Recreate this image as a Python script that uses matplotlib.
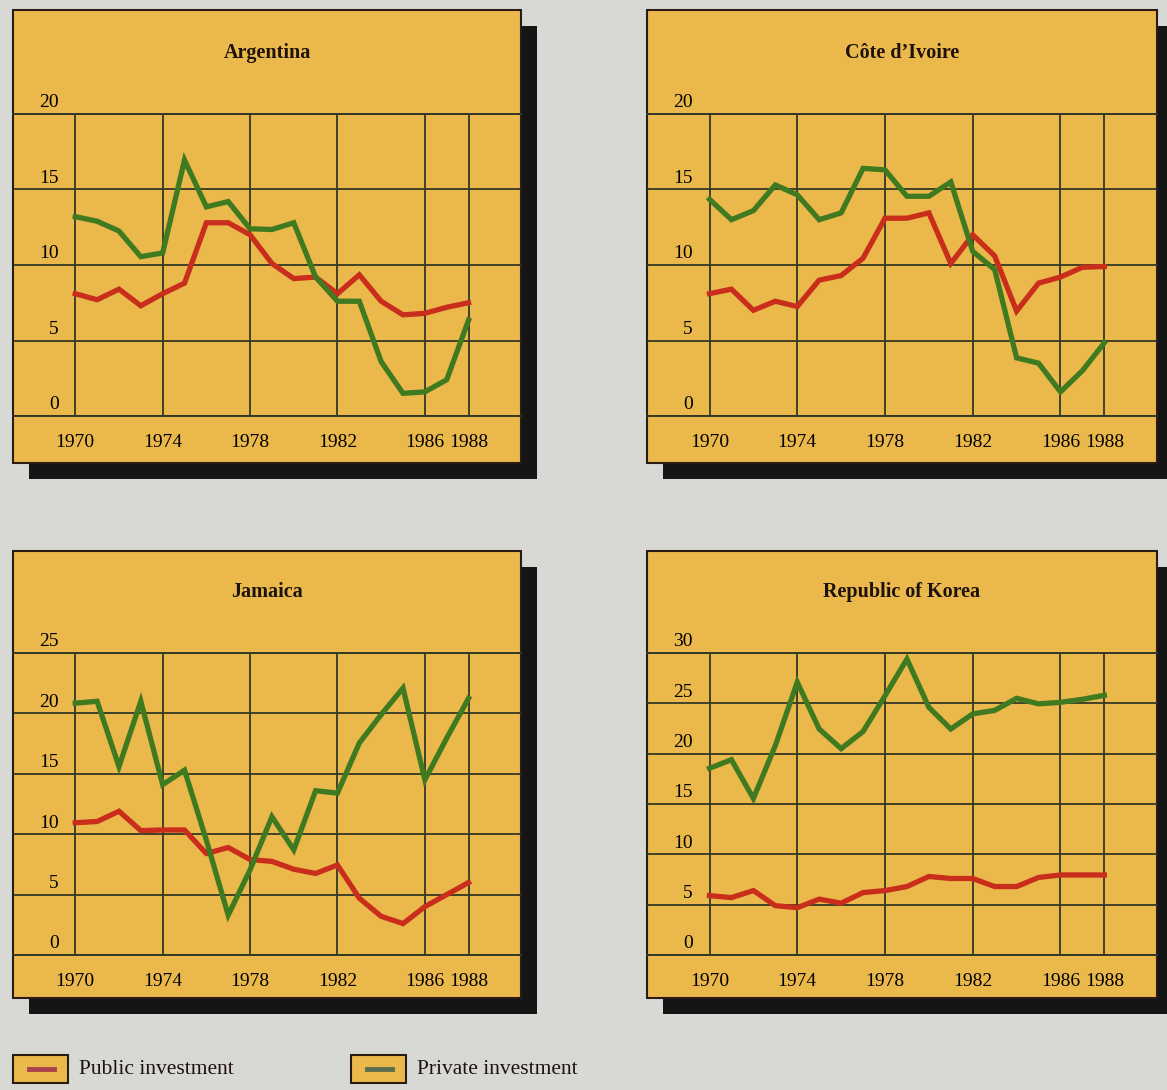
import numpy as np
import matplotlib
matplotlib.use("Agg")
import matplotlib.pyplot as plt
from matplotlib.patches import Rectangle
from matplotlib.lines import Line2D
import matplotlib.transforms as mtransforms

plt.rcParams['font.family'] = ['Liberation Serif', 'DejaVu Serif']

# data (percent of GDP)
years = list(range(1970, 1989))

argentina_public = [8.1, 7.7, 8.4, 7.3, 8.1, 8.8, 12.8, 12.8, 12.0, 10.1, 9.1, 9.2,
                    8.1, 9.35, 7.6, 6.7, 6.8, 7.2, 7.5]
argentina_private = [13.2, 12.9, 12.25, 10.55, 10.8, 16.95, 13.85, 14.2, 12.4, 12.35,
                     12.8, 9.2, 7.6, 7.6, 3.6, 1.5, 1.6, 2.4, 6.35]

cote_public = [8.1, 8.4, 7.0, 7.6, 7.25, 9.0, 9.3, 10.45, 13.1, 13.1, 13.45, 10.1,
               12.0, 10.6, 6.95, 8.8, 9.2, 9.85, 9.9]
cote_private = [14.35, 13.0, 13.6, 15.3, 14.65, 13.0, 13.45, 16.4, 16.3, 14.55, 14.55,
                15.5, 10.9, 9.7, 3.85, 3.5, 1.6, 3.0, 4.85]

jamaica_public = [10.95, 11.05, 11.9, 10.3, 10.35, 10.35, 8.4, 8.9, 7.9, 7.75, 7.1,
                  6.75, 7.45, 4.7, 3.2, 2.6, 4.0, 5.0, 6.0]
jamaica_private = [20.85, 21.0, 15.6, 21.0, 14.1, 15.3, 9.5, 3.3, 7.05, 11.45, 8.7,
                   13.6, 13.4, 17.55, 19.9, 22.1, 14.5, 17.95, 21.25]

korea_public = [5.9, 5.7, 6.4, 4.9, 4.7, 5.55, 5.15, 6.2, 6.4, 6.8, 7.8, 7.6, 7.6,
                6.8, 6.8, 7.7, 7.95, 7.95, 7.95]
korea_private = [18.55, 19.4, 15.55, 20.8, 27.1, 22.45, 20.5, 22.2, 25.75, 29.4, 24.6,
                 22.45, 23.95, 24.3, 25.5, 24.95, 25.1, 25.4, 25.8]

countries = ['Argentina', 'Côte d’Ivoire', 'Jamaica', 'Republic of Korea']
public_series = [argentina_public, cote_public, jamaica_public, korea_public]
private_series = [argentina_private, cote_private, jamaica_private, korea_private]
y_max = [20, 20, 25, 30]
x_ticks = [1970, 1974, 1978, 1982, 1986, 1988]
legend_labels = ['Public investment', 'Private investment']

W, H = 1167, 1090
BG = '#d8d9d5'
PANEL = '#ebb94b'
GRID = '#333826'
RED = '#c92e1d'
GREEN = '#3f7a20'

fig = plt.figure(figsize=(W / 100, H / 100), dpi=100, facecolor=BG)


def fx(x):
    return x / W


def fy(y):
    return 1 - y / H


# box (left, right, top, bottom) and plot area (top, bottom) in pixels
boxes = [(13, 521, 10, 463), (647, 1157, 10, 463),
         (13, 521, 551, 998), (647, 1157, 551, 998)]
plot_tb = [(114, 416), (114, 416), (653, 955), (653, 955)]
title_y = [53, 53, 592, 592]

for i in range(4):
    x0, x1, t, b = boxes[i]
    # shadow
    fig.add_artist(Rectangle((fx(x0 + 16), fy(b + 16)), (x1 - x0) / W, (b - t) / H,
                             transform=fig.transFigure, facecolor='#151515',
                             edgecolor='none', zorder=-3))
    fig.add_artist(Rectangle((fx(x0), fy(b)), (x1 - x0) / W, (b - t) / H,
                             transform=fig.transFigure, facecolor=PANEL,
                             edgecolor='#2a1c12', lw=1.5, zorder=-2))
    pt, pb = plot_tb[i]
    ax = fig.add_axes([fx(x0), fy(pb), (x1 - x0) / W, (pb - pt) / H])
    ax.set_facecolor('none')
    ax.plot(years, public_series[i], color=RED, lw=3.8, solid_joinstyle='miter', zorder=3)
    ax.plot(years, private_series[i], color=GREEN, lw=3.8, solid_joinstyle='miter', zorder=3)
    ax.set_xlim(1967.15, 1990.4)
    ax.set_ylim(0, y_max[i])
    ax.set_xticks(x_ticks)
    ax.set_xticklabels([str(v) for v in x_ticks], fontsize=14)
    yt = list(range(0, y_max[i] + 1, 5))
    ax.set_yticks(yt)
    ax.set_yticklabels([str(v) for v in yt], fontsize=14)
    ax.grid(True, color=GRID, lw=1.3, zorder=1)
    ax.tick_params(axis='both', length=0)
    ax.tick_params(axis='x', pad=13)
    ax.tick_params(axis='y', pad=-33)
    off = mtransforms.ScaledTranslation(0, 9.5 / 72, fig.dpi_scale_trans)
    for lbl in ax.get_yticklabels():
        lbl.set_transform(lbl.get_transform() + off)
    for s in ['left', 'right']:
        ax.spines[s].set_visible(False)
    for s in ['top', 'bottom']:
        ax.spines[s].set_color(GRID)
        ax.spines[s].set_linewidth(1.4)
    fig.text(fx((x0 + x1) / 2), fy(title_y[i]), countries[i], ha='center', va='center',
             fontsize=14.5, fontweight='bold', color='#1e120c')

# legend
legend_x = [13, 351]
legend_line = ['#a8424c', '#5b6e50']
for k in range(2):
    lx = legend_x[k]
    fig.add_artist(Rectangle((fx(lx), fy(1083)), 55 / W, 28 / H, transform=fig.transFigure,
                             facecolor=PANEL, edgecolor='#2a1c12', lw=1.5))
    fig.add_artist(Line2D([fx(lx + 16), fx(lx + 41)], [fy(1069), fy(1069)],
                          transform=fig.transFigure, color=legend_line[k], lw=3.5))
    fig.text(fx(lx + 66), fy(1069), legend_labels[k], ha='left', va='center',
             fontsize=15.5, color='#1e120c')

fig.savefig('out.png', dpi=100, facecolor=BG)
